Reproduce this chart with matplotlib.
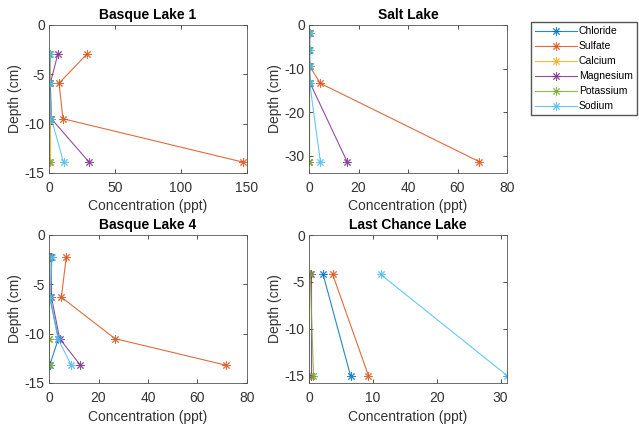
import matplotlib
matplotlib.use("Agg")
import matplotlib.pyplot as plt
from matplotlib.lines import Line2D

plt.rcParams['font.family'] = ['Liberation Sans', 'DejaVu Sans']
plt.rcParams['axes.unicode_minus'] = False

series = ["Chloride", "Sulfate", "Calcium", "Magnesium", "Potassium", "Sodium"]
colors = ["#0072BD", "#D95319", "#EDB120", "#7E2F8E", "#77AC30", "#4DBEEE"]

# Basque Lake 1
bl1_depth = [-2.9, -5.9, -9.5, -13.9]
bl1 = {
    "Chloride":  [0.3, 0.3, 0.5, 0.5],
    "Sulfate":   [29.0, 7.6, 10.6, 147.0],
    "Calcium":   [0.4, 0.4, 0.4, 0.4],
    "Magnesium": [6.8, 1.0, 1.8, 30.4],
    "Potassium": [0.3, 0.3, 0.3, 0.3],
    "Sodium":    [1.0, 0.5, 1.8, 11.0],
}

# Salt Lake
sl_depth = [-1.9, -5.8, -9.5, -13.4, -31.4]
sl = {
    "Chloride":  [0.1, 0.1, 0.1, 0.2, 0.2],
    "Sulfate":   [0.3, 0.2, 0.3, 4.6, 68.8],
    "Calcium":   [0.1, 0.1, 0.1, 0.1, 0.1],
    "Magnesium": [0.2, 0.2, 0.2, 0.5, 15.4],
    "Potassium": [0.1, 0.1, 0.1, 0.1, 0.2],
    "Sodium":    [0.3, 0.3, 0.3, 0.3, 4.6],
}

# Basque Lake 4
bl4_depth = [-2.2, -6.3, -10.5, -13.2]
bl4 = {
    "Chloride":  [0.3, 0.3, 3.8, 0.3],
    "Sulfate":   [7.0, 5.0, 26.6, 71.6],
    "Calcium":   [0.1, 0.1, 0.1, 0.1],
    "Magnesium": [1.0, 1.0, 4.3, 12.7],
    "Potassium": [0.1, 0.1, 0.1, 0.1],
    "Sodium":    [1.2, 0.5, 3.6, 9.0],
}

# Last Chance Lake
lc_depth = [-4.2, -15.0]
lc = {
    "Chloride":  [2.2, 6.5],
    "Sulfate":   [3.7, 9.3],
    "Calcium":   [0.1, 0.0],
    "Magnesium": [0.3, 0.3],
    "Potassium": [0.2, 0.7],
    "Sodium":    [11.2, 31.0],
}

panels = [
    ("Basque Lake 1", bl1_depth, bl1, (0, 150), (-15, 0), [0, 50, 100, 150], [-15, -10, -5, 0]),
    ("Salt Lake", sl_depth, sl, (0, 80), (-34, 0), [0, 20, 40, 60, 80], [-30, -20, -10, 0]),
    ("Basque Lake 4", bl4_depth, bl4, (0, 80), (-15, 0), [0, 20, 40, 60, 80], [-15, -10, -5, 0]),
    ("Last Chance Lake", lc_depth, lc, (0, 31), (-15.8, 0), [0, 10, 20, 30], [-15, -10, -5, 0]),
]

W, H = 639, 425
fig = plt.figure(figsize=(W / 100, H / 100), dpi=100)
boxes = [(49, 25), (309, 25), (49, 235), (309, 235)]
aw, ah = 198, 148
axcol = "#333333"
marker = (8, 2, 0)
LW, MS, MEW, ALPHA = 0.8, 6, 0.7, 0.85

for (title, depth, data, xl, yl, xt, yt), (lx, ty) in zip(panels, boxes):
    ax = fig.add_axes([lx / W, 1 - (ty + ah) / H, aw / W, ah / H])
    for name, c in zip(series, colors):
        ax.plot(data[name], depth, color=c, lw=LW, marker=marker, ms=MS, mew=MEW, alpha=ALPHA)
    ax.set_xlim(*xl)
    ax.set_ylim(*yl)
    ax.set_xticks(xt)
    ax.set_yticks(yt)
    ax.set_title(title, fontsize=10, fontweight="bold", pad=4)
    ax.set_xlabel("Concentration (ppt)", fontsize=10, color=axcol, labelpad=3)
    ax.set_ylabel("Depth (cm)", fontsize=10, color=axcol, labelpad=2)
    ax.tick_params(direction="in", length=3, width=0.6, labelsize=10, colors=axcol,
                   top=True, right=True)
    ax.tick_params(axis="x", pad=6)
    ax.tick_params(axis="y", pad=3)
    for s in ax.spines.values():
        s.set_color("#555555")
        s.set_linewidth(0.6)

handles = [Line2D([], [], color=c, lw=LW, marker=marker, ms=MS, mew=MEW, alpha=ALPHA) for c in colors]
fig.legend(handles, series, loc="upper left", bbox_to_anchor=(531 / W, 1 - 22 / H),
           fontsize=7.5, frameon=True, fancybox=False, edgecolor="#555555", borderpad=0.4,
           labelspacing=0.48, handlelength=4.0, handletextpad=0.2, borderaxespad=0,
           framealpha=1)

fig.savefig("out.png", dpi=100, facecolor="white")
